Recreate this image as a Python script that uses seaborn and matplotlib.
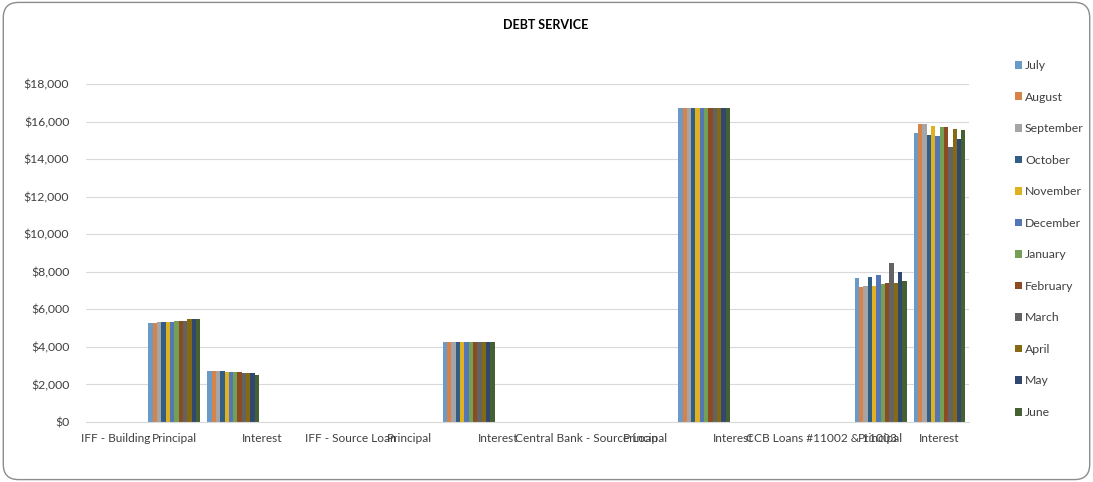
import pandas as pd
import matplotlib
matplotlib.use("Agg")
import matplotlib.pyplot as plt
from matplotlib.patches import FancyBboxPatch
from matplotlib.ticker import FuncFormatter, FixedLocator
import seaborn as sns

# =========================
# Dados
# =========================

categories = [
    "IFF - Building", "Principal", "Interest", "",
    "IFF - Source Loan", "Principal", "Interest", "",
    "Central Bank - Source Loan", "Principal", "Interest", "",
    "CCB Loans #11002 & 11003", "Principal", "Interest",
]

months = ["July", "August", "September", "October", "November", "December",
          "January", "February", "March", "April", "May", "June"]

colors = ["#5B9BD5", "#ED7D31", "#A5A5A5", "#255E91", "#FFC000", "#4472C4",
          "#70AD47", "#9E480E", "#636363", "#997300", "#264478", "#43682B"]

# valores por mes (so categorias com barras)
iff_building_principal = [5250, 5250, 5330, 5330, 5330, 5330, 5400, 5400, 5400, 5480, 5480, 5480]
iff_building_interest = [2730, 2730, 2730, 2730, 2660, 2660, 2660, 2660, 2590, 2590, 2590, 2490]
iff_source_interest = [4240] * 12
central_bank_interest = [16730] * 12
ccb_principal = [7650, 7190, 7260, 7740, 7240, 7810, 7350, 7420, 8450, 7420, 7970, 7490]
ccb_interest = [15370, 15850, 15850, 15300, 15760, 15210, 15690, 15690, 14660, 15600, 15050, 15530]

series_by_slot = {
    1: iff_building_principal,
    2: iff_building_interest,
    6: iff_source_interest,
    10: central_bank_interest,
    13: ccb_principal,
    14: ccb_interest,
}

rows = []
for slot, vals in series_by_slot.items():
    for m, v in zip(months, vals):
        rows.append({"slot": slot, "month": m, "value": v})
df = pd.DataFrame(rows)

# =========================
# Grafico
# =========================

sns.set_style("white")
plt.rcParams["font.family"] = ["Lato", "DejaVu Sans"]

fig = plt.figure(figsize=(10.93, 4.82), dpi=100)
ax = fig.add_axes([86 / 1093, 1 - 422 / 482, (969 - 86) / 1093, (422 - 84) / 482])

sns.barplot(data=df, x="slot", y="value", hue="month", hue_order=months,
            order=list(range(len(categories))), palette=colors,
            width=0.88, gap=0, linewidth=0, errorbar=None, ax=ax)

ax.set_xlim(-0.5, len(categories) - 0.5)
ax.set_ylim(0, 18000)
ax.set_yticks(range(0, 18001, 2000))
ax.yaxis.set_major_formatter(FuncFormatter(lambda v, p: f"${v:,.0f}"))
ax.grid(axis="y", color="#D9D9D9", linewidth=0.8)
ax.set_axisbelow(True)

# rotulos das categorias ("Interest" ocupa duas posicoes)
tick_pos, tick_lab = [], []
for i, lab in enumerate(categories):
    if lab == "":
        continue
    span = 2 if i + 1 < len(categories) and categories[i + 1] == "" else 1
    tick_pos.append(i + (span - 1) / 2)
    tick_lab.append(lab)
ax.set_xticks(tick_pos)
ax.set_xticklabels(tick_lab)

seps = [i - 0.5 for i in range(len(categories) + 1)
        if i == len(categories) or categories[i] != ""]
ax.xaxis.set_minor_locator(FixedLocator(seps))
ax.tick_params(axis="x", which="major", length=0, pad=8, labelsize=8.6, colors="#404040")
ax.tick_params(axis="x", which="minor", length=19, width=0.8, color="#D9D9D9", direction="out")
ax.tick_params(axis="y", length=0, pad=12, labelsize=8.8, colors="#404040")
ax.set_xlabel("")
ax.set_ylabel("")

for s in ["top", "right", "left"]:
    ax.spines[s].set_visible(False)
ax.spines["bottom"].set_color("#D9D9D9")
ax.spines["bottom"].set_linewidth(0.8)

fig.text(546 / 1093, 1 - 25 / 482, "DEBT SERVICE", ha="center", va="center",
         fontsize=9, fontweight="bold", color="#000000")

handles, labels = ax.get_legend_handles_labels()
ax.get_legend().remove()
fig.legend(handles, labels, loc="upper left", bbox_to_anchor=(1009 / 1093, 1 - 54 / 482),
           frameon=False, fontsize=8.8, handlelength=0.6, handleheight=0.6,
           handletextpad=0.2, labelspacing=1.68, borderpad=0, labelcolor="#404040")

border = FancyBboxPatch((0.003, 0.005), 0.994, 0.99, transform=fig.transFigure,
                        boxstyle="round,pad=0,rounding_size=0.014", mutation_aspect=2.27,
                        facecolor="none", edgecolor="#8C8C8C", linewidth=1.0)
fig.patches.append(border)

plt.savefig("out.png", dpi=100)
